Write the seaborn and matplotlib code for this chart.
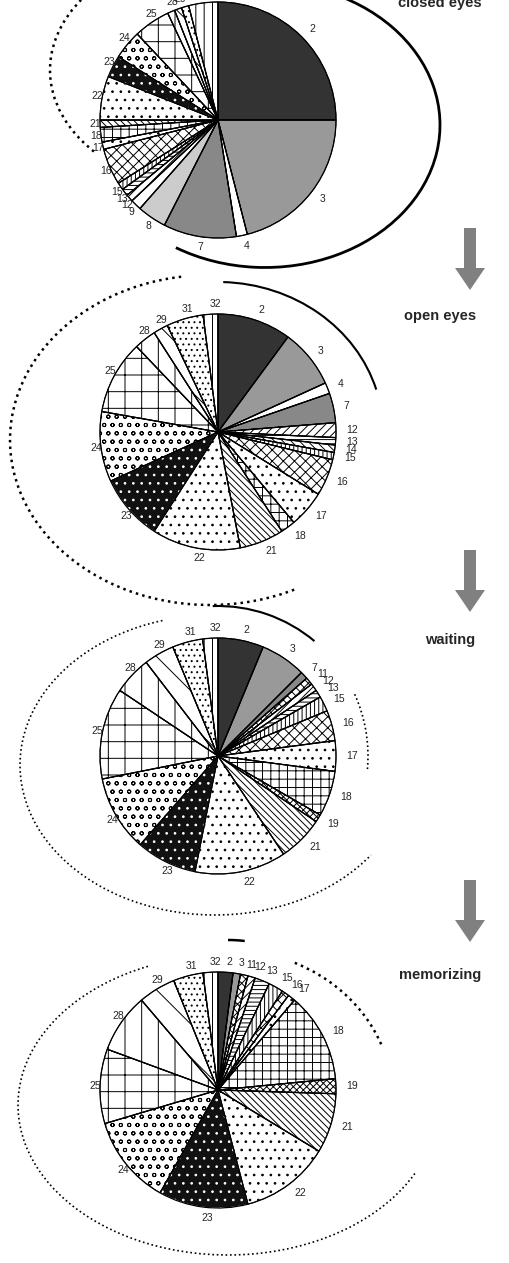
import matplotlib
matplotlib.use("Agg")
import matplotlib.pyplot as plt
import seaborn as sns
from matplotlib.patches import Arc, FancyArrow

sns.set_style("white")
plt.rcParams['font.family'] = ['Liberation Sans', 'DejaVu Sans']
plt.rcParams['hatch.linewidth'] = 0.7

titles = ["closed eyes", "open eyes", "waiting", "memorizing"]
labels1 = ["2","3","4","7","8","9","12","13","15","16","17","18","21","22","23","24","25","28","29","31","32"]
values1 = [25,21,1.5,10,4,1.5,1,1,1,5,1,2,1,6,3,4,5,1,1,1,4]
labels2 = ["2","3","4","7","12","13","14","15","16","17","18","21","22","23","24","25","28","29","31","32"]
values2 = [10,8,1.5,4,2,1,1,1,5,5,2,6,12,9,9.5,10,3,2,5,2]
labels3 = ["2","3","7","11","12","13","15","16","17","18","19","21","22","23","24","25","28","29","31","32"]
values3 = [6,6,1,1,1,1,2,4,4,6,1,6,12,8,10,12,5,4,4,2]
labels4 = ["2","3","11","12","13","15","16","17","18","19","21","22","23","24","25","28","29","31","32"]
values4 = [2,1,1,1,2,2,1,1,12,2,8,12,12,12,10,8,5,4,2]

style = {
    "2": ("#333333", None, "k"), "3": ("#999999", None, "k"), "4": ("white", None, "k"),
    "7": ("#888888", None, "k"), "8": ("#cccccc", None, "k"), "9": ("white", None, "k"),
    "11": ("white", "xxxx", "k"), "12": ("white", "////", "k"), "13": ("white", "----", "k"),
    "14": ("white", "\\\\\\\\", "k"), "15": ("white", "||||", "k"), "16": ("white", "xxx", "k"),
    "17": ("white", "..", "k"), "18": ("white", "++", "k"), "19": ("white", "xxxxx", "k"),
    "21": ("white", "\\\\\\\\\\", "k"), "22": ("white", "..", "k"), "23": ("#111111", "..", "white"),
    "24": ("white", "oo", "k"), "25": ("white", "-|", "k"), "28": ("white", "|", "k"),
    "29": ("white", "\\", "k"), "31": ("white", "...", "k"), "32": ("white", "||", "k"),
}

H = 1263
fig = plt.figure(figsize=(5.10, 12.63), dpi=100)
ax = fig.add_axes([0, 0, 1, 1])
ax.set_xlim(0, 510); ax.set_ylim(0, H); ax.set_aspect('equal'); ax.axis('off')

centers = [(218, 120), (218, 432), (218, 756), (218, 1090)]
R = 118
datasets = [(labels1, values1), (labels2, values2), (labels3, values3), (labels4, values4)]
for (cx, cy), (labs, vals) in zip(centers, datasets):
    cols = [style[l][0] for l in labs]
    wedges, texts = ax.pie(vals, labels=labs, colors=cols, startangle=90, counterclock=False,
                           center=(cx, H - cy), radius=R, labeldistance=1.09,
                           textprops={'fontsize': 7.5})
    for w, l in zip(wedges, labs):
        fc, hatch, hc = style[l]
        w.set_edgecolor(hc)
        w.set_linewidth(0.6)
        if hatch:
            w.set_hatch(hatch)
    ax.pie(vals, startangle=90, counterclock=False, center=(cx, H - cy), radius=R,
           wedgeprops={'fill': False, 'edgecolor': 'black', 'linewidth': 0.9})

ax.set_xlim(0, 510); ax.set_ylim(0, H); ax.set_aspect('equal'); ax.axis('off')

tpos = [(440, 3), (440, 316), (450, 640), (440, 975)]
for t, (x, y) in zip(titles, tpos):
    ax.text(x, H - y, t, fontsize=10.5, fontweight='bold', ha='center', va='center')

for y0 in [228, 550, 880]:
    ax.add_patch(FancyArrow(470, H - y0, 0, -62, width=12, head_width=30, head_length=22,
                            length_includes_head=True, color='#808080', lw=0))

def arc(cx, cy, w, h, t1, t2, ls, lw):
    ax.add_patch(Arc((cx, H - cy), w, h, theta1=t1, theta2=t2, linestyle=ls, lw=lw, color='k'))

arc(265, 125, 350, 285, -126, 100, '-', 2)
arc(215, 70, 330, 240, 145, 215, ':', 1.8)
arc(218, 432, 330, 300, 15, 88, '-', 1.5)
arc(210, 440, 400, 330, 100, 300, ':', 1.8)
arc(218, 756, 300, 300, 50, 92, '-', 1.5)
arc(215, 765, 390, 300, 110, 330, ':', 1.2)
arc(218, 756, 300, 300, -5, 25, ':', 1.2)
arc(228, 1100, 300, 320, 84, 90, '-', 1.8)
arc(228, 1105, 420, 300, 120, 340, ':', 1.2)
arc(228, 1100, 330, 300, 20, 65, ':', 1.8)

fig.savefig("out.png", dpi=100)
